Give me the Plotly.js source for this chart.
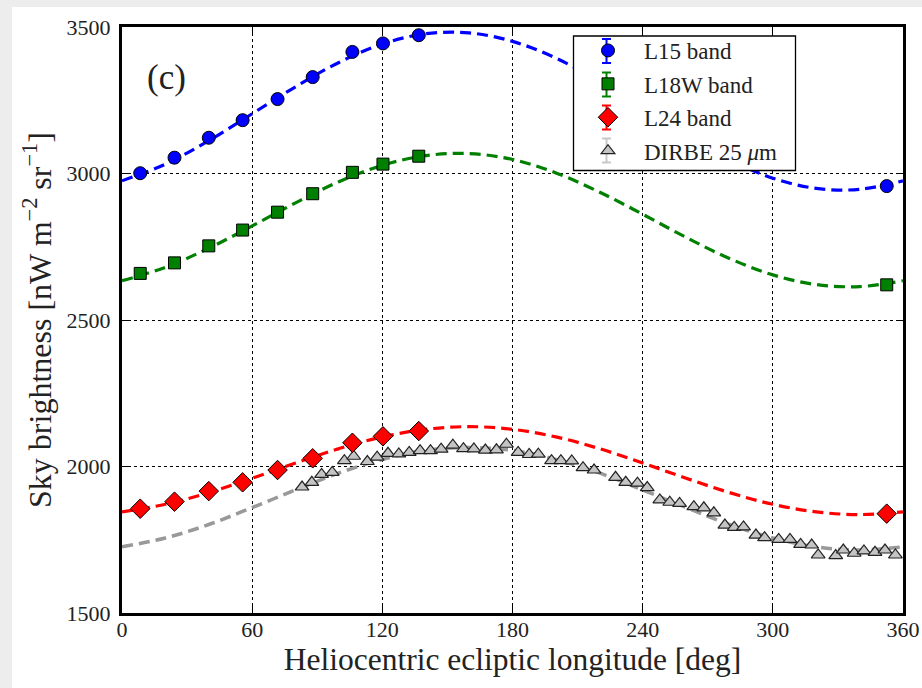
<!DOCTYPE html>
<html>
<head>
<meta charset="utf-8">
<script src="https://cdn.plot.ly/plotly-3.0.1.min.js"></script>
<style>html,body{margin:0;padding:0;background:#ededed;}#chart{width:922px;height:688px;}</style>
</head>
<body>
<div id="chart"></div>
<script>
// AKARI band measurements
const akariLon = [8.4, 24.2, 40.0, 55.6, 71.7, 87.9, 106.2, 120.3, 136.8, 352.5];
const l15 = [3001, 3054, 3122, 3182, 3254, 3329, 3415, 3444, 3472, 2957];
const l18w = [2659, 2695, 2753, 2807, 2868, 2931, 3004, 3032, 3059, 2620];
const l24 = [1856, 1880, 1916, 1946, 1988, 2028, 2081, 2103, 2121, 1839];

// DIRBE 25 um measurements
const dirbeLon = [83.0, 87.5, 92.0, 96.9, 102.5, 106.8, 113.1, 117.6, 122.6, 127.6, 132.4, 137.4, 142.2, 147.1, 152.5, 157.4, 162.2, 167.5, 172.6, 177.2, 182.6, 187.7, 191.9, 198.0, 202.3, 207.3, 212.5, 217.6, 227.5, 232.2, 237.6, 242.1, 247.9, 252.5, 257.0, 263.6, 268.2, 272.8, 277.9, 282.2, 286.5, 292.2, 296.2, 302.7, 307.9, 312.8, 317.9, 320.9, 329.0, 332.5, 337.5, 342.0, 347.1, 351.7, 356.5];
const dirbe = [1930, 1946, 1973, 1980, 2020, 2035, 2017, 2032, 2045, 2043, 2048, 2054, 2054, 2059, 2073, 2061, 2060, 2056, 2057, 2076, 2048, 2041, 2042, 2020, 2020, 2019, 1996, 1988, 1963, 1946, 1943, 1928, 1886, 1878, 1874, 1863, 1859, 1842, 1800, 1792, 1794, 1766, 1757, 1751, 1751, 1734, 1732, 1698, 1696, 1715, 1704, 1712, 1707, 1715, 1698];

// Fitted curves
const fitLon = [0, 20, 40, 60, 80, 100, 120, 140, 160, 180, 200, 220, 240, 260, 280, 300, 320, 340, 360];
const fitL15 = [2975, 3032, 3112, 3204, 3296, 3379, 3442, 3477, 3480, 3451, 3394, 3314, 3222, 3130, 3047, 2984, 2949, 2946, 2975];
const fitL18w = [2634, 2680, 2745, 2821, 2900, 2972, 3028, 3061, 3068, 3048, 3002, 2937, 2861, 2782, 2710, 2654, 2621, 2614, 2634];
const fitL24 = [1845, 1871, 1911, 1960, 2012, 2061, 2101, 2127, 2136, 2127, 2101, 2061, 2012, 1960, 1911, 1871, 1845, 1836, 1845];
const fitDirbe = [1726, 1756, 1802, 1860, 1920, 1978, 2024, 2055, 2065, 2055, 2024, 1978, 1920, 1860, 1802, 1756, 1726, 1715, 1726];

const seriesNames = ["L15 band", "L18W band", "L24 band", "DIRBE 25 <i>μ</i>m"];
const seriesColors = ["#0000ff", "#008000", "#ff0000", "#c8c8c8"];
const xTicks = [0, 60, 120, 180, 240, 300, 360];
const yTicks = [1500, 2000, 2500, 3000, 3500];

const FONT = "'Liberation Serif', 'DejaVu Serif', serif";
const dash = "11px,6px";

function fit(y, color, w) {
  return {x: fitLon, y: y, type: "scatter", mode: "lines", showlegend: false, hoverinfo: "skip",
          line: {color: color, width: w, dash: dash, shape: "spline", smoothing: 1.0}};
}

const traces = [
  fit(fitDirbe, "#999999", 3.5),
  fit(fitL24, seriesColors[2], 3.2),
  fit(fitL18w, seriesColors[1], 3.2),
  fit(fitL15, seriesColors[0], 3.2),
  {x: dirbeLon, y: dirbe, type: "scatter", mode: "markers", name: seriesNames[3], legendgroup: "d", legendrank: 4,
   marker: {symbol: "triangle-up", size: 12, color: "#c4c4c4", line: {color: "#222", width: 1.2}}},
  {x: akariLon, y: l24, type: "scatter", mode: "markers", name: seriesNames[2], legendgroup: "c", legendrank: 3,
   marker: {symbol: "diamond", size: 15, color: seriesColors[2], line: {color: "#000", width: 1}}},
  {x: akariLon, y: l18w, type: "scatter", mode: "markers", name: seriesNames[1], legendgroup: "b", legendrank: 2,
   marker: {symbol: "square", size: 12, color: seriesColors[1], line: {color: "#000", width: 1}}},
  {x: akariLon, y: l15, type: "scatter", mode: "markers", name: seriesNames[0], legendgroup: "a", legendrank: 1,
   marker: {symbol: "circle", size: 13, color: seriesColors[0], line: {color: "#000", width: 1}}}
];

const W = 922, H = 688, L = 122, R = 19, T = 27, B = 75;
const pw = W - L - R, ph = H - T - B;
const px2x = p => (p - L) / pw;
const px2y = p => (H - B - p) / ph;

const axisCommon = {
  showline: true, linewidth: 3, linecolor: "#000", mirror: "ticks",
  ticks: "inside", ticklen: 7, tickwidth: 1, tickcolor: "#000",
  showgrid: true, gridcolor: "#000", gridwidth: 1, griddash: "dot",
  zeroline: false, tickfont: {family: FONT, size: 22, color: "#222"}
};

// legend frame and error-bar glyphs (decoration)
const shapes = [
  {type: "rect", xref: "paper", yref: "paper", layer: "below",
   x0: px2x(12), x1: px2x(W), y0: px2y(H), y1: px2y(7),
   fillcolor: "#ffffff", line: {width: 0}},
  {type: "rect", xref: "paper", yref: "paper", layer: "above",
   x0: px2x(573.5), x1: px2x(795.5), y0: px2y(170.5), y1: px2y(36),
   fillcolor: "#ffffff", line: {color: "#000", width: 1.3}}
];
const rowY = [51, 84.5, 117.5, 150.5];
rowY.forEach((ry, i) => {
  const c = seriesColors[i], bx = 606.5;
  shapes.push({type: "line", xref: "paper", yref: "paper", layer: "above",
    x0: px2x(bx), x1: px2x(bx), y0: px2y(ry + 12), y1: px2y(ry - 12), line: {color: c, width: 2}});
  shapes.push({type: "line", xref: "paper", yref: "paper", layer: "above",
    x0: px2x(bx - 4.5), x1: px2x(bx + 4.5), y0: px2y(ry - 12), y1: px2y(ry - 12), line: {color: c, width: 2}});
  shapes.push({type: "line", xref: "paper", yref: "paper", layer: "above",
    x0: px2x(bx - 4.5), x1: px2x(bx + 4.5), y0: px2y(ry + 12), y1: px2y(ry + 12), line: {color: c, width: 2}});
});

const layout = {
  width: W, height: H,
  margin: {l: L, r: R, t: T, b: B, pad: 0},
  paper_bgcolor: "#ededed", plot_bgcolor: "#ffffff",
  font: {family: FONT, color: "#222"},
  showlegend: true,
  xaxis: Object.assign({}, axisCommon, {range: [0, 360], tickvals: xTicks, ticktext: xTicks.map(String),
    ticklabelstandoff: -5,
    title: {text: "Heliocentric ecliptic longitude [deg]", font: {family: FONT, size: 31.5, color: "#222"}, standoff: 2}}),
  yaxis: Object.assign({}, axisCommon, {range: [1500, 3500], tickvals: yTicks, ticktext: yTicks.map(String),
    ticklabelstandoff: 4,
    title: {text: "Sky brightness [nW m<sup>−2</sup> sr<sup>−1</sup>]", font: {family: FONT, size: 32, color: "#222"}, standoff: 6}}),
  legend: {x: px2x(572), y: px2y(29), xanchor: "left", yanchor: "top",
    bgcolor: "rgba(0,0,0,0)", borderwidth: 0,
    font: {family: FONT, size: 23, color: "#222"}, traceorder: "grouped", tracegroupgap: 0.5, itemwidth: 62},
  shapes: shapes,
  annotations: [
    {text: "(c)", xref: "paper", yref: "paper", x: px2x(166), y: px2y(77),
     xanchor: "center", yanchor: "middle", showarrow: false, font: {family: FONT, size: 35, color: "#222"}}
  ]
};

Plotly.newPlot("chart", traces, layout, {displayModeBar: false, staticPlot: true});
</script>
</body>
</html>
